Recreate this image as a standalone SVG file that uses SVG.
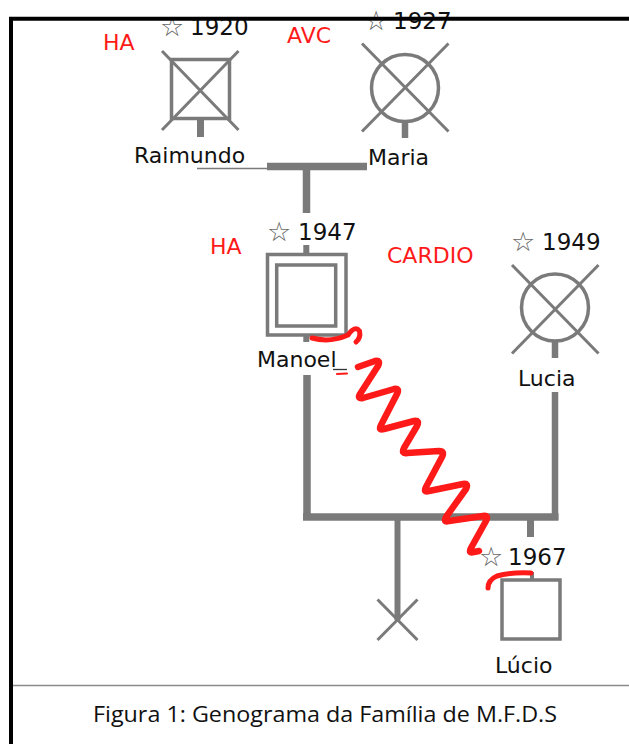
<svg xmlns="http://www.w3.org/2000/svg" width="629" height="744" viewBox="0 0 629 744">
<defs>
<style>
.sym{fill:none;stroke:#7a7a7a;stroke-width:3.5}
.x{stroke:#7a7a7a;stroke-width:3}
.ln{stroke:#7a7a7a;fill:none}
.lbl{font-family:"DejaVu Sans",sans-serif;font-size:22px;fill:#111}
.yr{font-family:"DejaVu Sans",sans-serif;font-size:23px;fill:#111}
.star{font-family:"DejaVu Sans",sans-serif;font-size:27px;fill:#666}
.dx{font-family:"DejaVu Sans",sans-serif;font-size:22px;fill:#ff1a1a}
.red{fill:none;stroke:#ff1a1a;stroke-linejoin:round;stroke-linecap:round}
</style>
</defs>
<rect width="629" height="744" fill="#fff"/>

<g id="connectors">
  <line class="ln" x1="197" y1="168.5" x2="268" y2="168.5" stroke-width="1.4"/>
  <line class="ln" x1="267" y1="166.5" x2="367" y2="166.5" stroke-width="7.5"/>
  <line class="ln" x1="306.5" y1="166" x2="306.5" y2="213" stroke-width="7.5"/>
  <line class="ln" x1="307" y1="375" x2="307" y2="520" stroke-width="7.5"/>
  <line class="ln" x1="303" y1="517" x2="558.5" y2="517" stroke-width="7.5"/>
  <line class="ln" x1="555" y1="392" x2="555" y2="520" stroke-width="6.5"/>
  <line class="ln" x1="397.5" y1="520" x2="397.5" y2="620" stroke-width="6"/>
  <line class="ln" x1="530.5" y1="520" x2="530.5" y2="537" stroke-width="7"/>
</g>

<g id="raimundo">
  <line class="ln" x1="200.5" y1="120" x2="200.5" y2="137" stroke-width="7"/>
  <rect class="sym" x="171.5" y="59.5" width="58" height="59" stroke-width="4"/>
  <line class="x" x1="162" y1="51" x2="238.5" y2="130"/>
  <line class="x" x1="238.5" y1="51" x2="162" y2="130"/>
  <text class="dx" x="103" y="50">HA</text>
  <text class="star" x="160" y="36">☆</text>
  <text class="yr" x="190" y="35">1920</text>
  <text class="lbl" x="134" y="163">Raimundo</text>
</g>

<g id="maria">
  <line class="ln" x1="405" y1="122" x2="405" y2="138" stroke-width="6.5"/>
  <circle class="sym" cx="405" cy="88" r="33.5"/>
  <line class="x" x1="362" y1="43.5" x2="448.5" y2="131.5"/>
  <line class="x" x1="448.5" y1="43.5" x2="362" y2="131.5"/>
  <text class="dx" x="287" y="43">AVC</text>
  <text class="star" x="364" y="30">☆</text>
  <text class="yr" x="393" y="29">1927</text>
  <text class="lbl" x="368" y="165">Maria</text>
</g>

<g id="manoel">
  <line class="ln" x1="306.3" y1="245" x2="306.3" y2="254" stroke-width="6"/>
  <line class="ln" x1="306.3" y1="336" x2="306.3" y2="342" stroke-width="6"/>
  <rect class="sym" x="267.5" y="254.5" width="78.5" height="80.5" stroke-width="3.4"/>
  <rect class="sym" x="276.7" y="265" width="59" height="61" stroke-width="3.4"/>
  <text class="dx" x="210" y="254">HA</text>
  <text class="star" x="267" y="241">☆</text>
  <text class="yr" x="298" y="240">1947</text>
  <text class="lbl" x="257" y="367">Manoel</text>
  <line x1="333" y1="369.5" x2="347" y2="369.5" stroke="#333" stroke-width="1.3"/>
</g>

<g id="lucia">
  <line class="ln" x1="555" y1="340" x2="555" y2="358" stroke-width="6.5"/>
  <circle class="sym" cx="555" cy="307.5" r="33.5"/>
  <line class="x" x1="512" y1="265" x2="598.5" y2="353.5"/>
  <line class="x" x1="598.5" y1="265" x2="512" y2="353.5"/>
  <text class="dx" x="387" y="263">CARDIO</text>
  <text class="star" x="511" y="251">☆</text>
  <text class="yr" x="542" y="250">1949</text>
  <text class="lbl" x="518" y="386">Lucia</text>
</g>

<g id="deceased-child">
  <line class="x" x1="377.5" y1="599.5" x2="417.5" y2="640" stroke-width="4"/>
  <line class="x" x1="417.5" y1="599.5" x2="377.5" y2="640" stroke-width="4"/>
</g>

<g id="lucio">
  <line class="ln" x1="532" y1="572" x2="532" y2="579" stroke-width="4"/>
  <rect class="sym" x="502" y="580" width="58" height="59" stroke-width="3.5"/>
  <text class="star" x="479" y="566">☆</text>
  <text class="yr" x="508" y="565">1967</text>
  <text class="lbl" x="495" y="673">Lúcio</text>
</g>

<g id="conflict">
  <path class="red" stroke-width="5" d="M312 338 Q330 343 348 335 Q355 325 359.5 331 Q361 338 356 342"/>
  <line class="red" x1="337" y1="374" x2="347" y2="373.5" stroke-width="2"/>
  <path class="red" stroke-width="6.5" d="M358 367 L375 361 Q381 360 378 366 L360 394 Q357 399 363 398 L394 389 Q400 388 397 394 L381 425 Q378 431 384 429 L414 421 Q420 420 417 426 L404 448 Q401 454 407 453 L439 451 Q445 451 442 457 L426 487 Q423 493 429 491 L463 484 Q469 483 466 489 L446 517 Q443 523 449 521 L483 516 Q489 515 486 521 L471 548 Q468 554 474 552 L479 551"/>
  <path class="red" stroke-width="5" d="M488 588 Q488 580 497 576 Q512 572 531 573"/>
</g>

<line x1="13" y1="685.5" x2="629" y2="685.5" stroke="#8a8a8a" stroke-width="1.5"/>
<line x1="11" y1="17" x2="11" y2="744" stroke="#000" stroke-width="4"/>
<line x1="9" y1="18.7" x2="629" y2="18.7" stroke="#000" stroke-width="4"/>

<text x="325" y="722" text-anchor="middle" textLength="464" lengthAdjust="spacingAndGlyphs" style="font-family:'Open Sans','Liberation Sans',sans-serif;font-size:21px;fill:#111">Figura 1: Genograma da Família de M.F.D.S</text>
</svg>
